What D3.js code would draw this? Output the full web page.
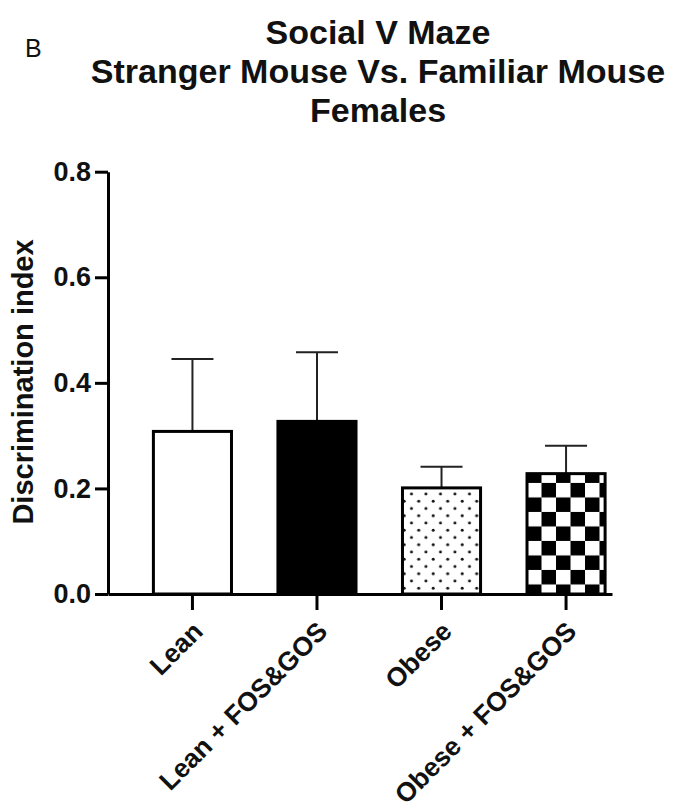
<!DOCTYPE html>
<html>
<head>
<meta charset="utf-8">
<script src="https://cdn.jsdelivr.net/npm/d3@7"></script>
<style>
  html, body { margin: 0; padding: 0; background: #fff; }
  svg { display: block; font-family: "Liberation Sans", Arial, Helvetica, sans-serif; }
</style>
</head>
<body>
<svg id="chart" width="675" height="812"></svg>
<script>
// Group names, mean discrimination index and SEM (upper error bar)
const groups = ["Lean", "Lean + FOS&GOS", "Obese", "Obese + FOS&GOS"];
const means  = [0.308, 0.327, 0.201, 0.228];
const sems   = [0.137, 0.131, 0.040, 0.053];
const fills  = ["white", "black", "dots", "checker"];
const yTicks = [0.0, 0.2, 0.4, 0.6, 0.8];
const titleLines = ["Social V Maze", "Stranger Mouse Vs. Familiar Mouse", "Females"];

const svg = d3.select("#chart");

const y = d3.scaleLinear().domain([0, 0.8]).range([594, 171.7]);
const x = d3.scaleBand()
  .domain(groups)
  .range([108, 612])
  .paddingInner(0.373)
  .paddingOuter(0.21)
  .align(0.868);

// Fill patterns
const defs = svg.append("defs");
const cell = 14.5;

const dots = defs.append("pattern")
  .attr("id", "dots")
  .attr("patternUnits", "userSpaceOnUse")
  .attr("width", cell).attr("height", cell)
  .attr("x", x("Obese") + 9.0 - 3.6)
  .attr("y", y(means[2]) + 6.0 - 3.6);
dots.append("rect").attr("width", cell).attr("height", cell).attr("fill", "white");
dots.append("circle").attr("cx", 3.6).attr("cy", 3.6).attr("r", 1.5).attr("fill", "#111");
dots.append("circle").attr("cx", 3.6 + cell / 2).attr("cy", 3.6 + cell / 2).attr("r", 1.5).attr("fill", "#111");

const checker = defs.append("pattern")
  .attr("id", "checker")
  .attr("patternUnits", "userSpaceOnUse")
  .attr("width", cell * 2).attr("height", cell * 2)
  .attr("x", x("Obese + FOS&GOS"))
  .attr("y", y(means[3]) + 9.3);
checker.append("rect").attr("width", cell * 2).attr("height", cell * 2).attr("fill", "white");
checker.append("rect").attr("x", cell).attr("y", 0).attr("width", cell).attr("height", cell).attr("fill", "black");
checker.append("rect").attr("x", 0).attr("y", cell).attr("width", cell).attr("height", cell).attr("fill", "black");

const fillOf = f => f === "dots" ? "url(#dots)" : f === "checker" ? "url(#checker)" : f;

// Error bars (upper only), drawn beneath the bars
const capW = 42;
const eb = svg.append("g").attr("stroke", "#222").attr("stroke-width", 2);
groups.forEach((g, i) => {
  const cx = x(g) + x.bandwidth() / 2;
  eb.append("line").attr("x1", cx).attr("x2", cx)
    .attr("y1", y(means[i])).attr("y2", y(means[i] + sems[i]));
  eb.append("line").attr("x1", cx - capW / 2).attr("x2", cx + capW / 2)
    .attr("y1", y(means[i] + sems[i])).attr("y2", y(means[i] + sems[i]));
});

// Bars
svg.append("g").selectAll("rect")
  .data(groups)
  .join("rect")
  .attr("x", d => x(d))
  .attr("y", (d, i) => y(means[i]))
  .attr("width", x.bandwidth())
  .attr("height", (d, i) => y(0) - y(means[i]))
  .attr("fill", (d, i) => fillOf(fills[i]))
  .attr("stroke", "black")
  .attr("stroke-width", 3);

// Y axis
const yAxis = svg.append("g")
  .attr("transform", "translate(108,0)")
  .call(d3.axisLeft(y).tickValues(yTicks).tickFormat(d3.format(".1f")).tickSize(13).tickSizeOuter(0).tickPadding(4));
yAxis.select(".domain").attr("stroke-width", 3);
yAxis.selectAll(".tick line").attr("stroke-width", 3);
yAxis.selectAll(".tick text")
  .attr("font-size", 27).attr("font-weight", "bold").attr("fill", "#111")
  .attr("font-family", "'Liberation Sans', Arial, sans-serif");

// X axis
const xAxis = svg.append("g")
  .attr("transform", "translate(0,594)")
  .call(d3.axisBottom(x).tickSize(16).tickSizeOuter(0).tickPadding(0));
xAxis.select(".domain").attr("stroke-width", 3);
xAxis.selectAll(".tick line").attr("stroke-width", 3);
xAxis.selectAll(".tick text")
  .attr("font-size", 26.5).attr("font-weight", "bold").attr("fill", "#111")
  .attr("font-family", "'Liberation Sans', Arial, sans-serif")
  .attr("text-anchor", "end")
  .attr("dy", null)
  .attr("y", 0)
  .attr("transform", "translate(12,39) rotate(-45)");

// Y axis title
svg.append("text")
  .attr("transform", "translate(33,382) rotate(-90)")
  .attr("text-anchor", "middle")
  .attr("font-size", 29).attr("font-weight", "bold").attr("fill", "#111")
  .text("Discrimination index");

// Chart title
svg.append("g").selectAll("text")
  .data(titleLines)
  .join("text")
  .attr("x", 378)
  .attr("y", (d, i) => 44 + i * 39)
  .attr("text-anchor", "middle")
  .attr("font-size", 34).attr("font-weight", "bold").attr("fill", "#111")
  .text(d => d);

// Panel letter
svg.append("text")
  .attr("x", 25).attr("y", 57)
  .attr("font-size", 25).attr("fill", "#111")
  .text("B");
</script>
</body>
</html>
